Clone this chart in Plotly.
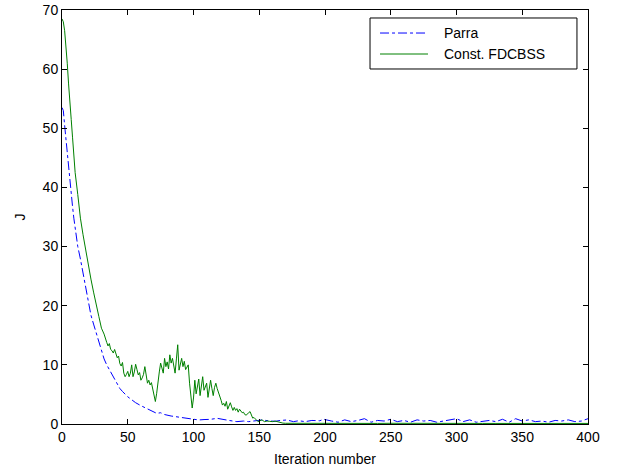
import plotly.graph_objects as go

# Const. FDCBSS (green, solid)
fdcbss_it = [0, 1, 2, 3, 4, 5, 6, 7, 8, 9, 10, 12, 14, 16, 18, 20, 22, 24, 26, 28,
             30, 32, 34, 35, 36, 37, 38, 39, 40, 41, 42, 43, 44, 45, 46, 47, 48, 49,
             50, 51, 52, 53, 54, 55, 56, 57, 58, 59, 60, 61, 62, 63, 64, 65, 66, 67,
             68, 69, 70, 71, 72, 73, 74, 75, 76, 77, 78, 79, 80, 81, 82, 83, 84, 85,
             86, 87, 88, 89, 90, 91, 92, 93, 94, 95, 96, 97, 98, 99, 100, 101, 102,
             103, 104, 105, 106, 107, 108, 109, 110, 111, 112, 113, 114, 115, 116,
             117, 118, 119, 120, 121, 122, 123, 124, 125, 126, 127, 128, 129, 130,
             131, 132, 133, 134, 135, 136, 137, 138, 139, 140, 141, 142, 143, 144,
             145, 146, 147, 148, 149, 150, 152, 154, 156, 158, 160, 162, 165, 168,
             170, 180, 190, 200, 210, 220, 230, 240, 250, 260, 270, 280, 290, 300,
             310, 320, 330, 340, 350, 360, 370, 380, 390, 400]
fdcbss_J = [68.5, 68.0, 66.5, 64.0, 61.0, 57.5, 55.0, 51.5, 48.5, 45.5, 42.5, 38.8,
            34.8, 32.0, 29.3, 26.6, 24.5, 22.3, 20.0, 18.2, 16.2, 15.2, 13.8, 13.2,
            13.6, 12.6, 12.4, 12.0, 12.6, 11.8, 11.2, 11.5, 10.2, 9.8, 10.4, 8.6, 8.0,
            8.4, 8.9, 8.0, 8.6, 10.0, 8.0, 8.8, 10.1, 9.2, 8.3, 8.7, 7.4, 7.8, 8.4,
            9.7, 8.5, 6.9, 7.4, 6.6, 7.0, 5.8, 4.6, 3.8, 5.2, 7.4, 8.8, 10.3, 9.4,
            8.6, 11.1, 9.7, 10.5, 9.3, 11.7, 10.3, 11.1, 9.8, 8.6, 11.0, 13.4, 9.1,
            10.2, 11.1, 9.7, 10.6, 9.2, 9.6, 10.0, 6.9, 5.0, 2.7, 4.4, 7.4, 5.1, 6.6,
            7.6, 4.8, 6.5, 8.0, 5.7, 6.3, 6.9, 4.5, 6.2, 7.4, 6.0, 4.8, 6.2, 6.9, 6.0,
            5.4, 4.8, 4.0, 3.2, 3.5, 3.0, 3.8, 2.5, 3.2, 3.6, 2.9, 2.3, 2.8, 2.3, 2.6,
            2.0, 2.5, 2.2, 1.9, 2.0, 1.6, 1.5, 1.8, 1.9, 2.1, 1.5, 1.0, 1.1, 0.8, 0.7,
            0.4, 0.5, 0.7, 0.4, 0.5, 0.45, 0.4, 0.5, 0.3, 0.15, 0.12, 0.1, 0.12, 0.1,
            0.1, 0.12, 0.1, 0.1, 0.12, 0.1, 0.1, 0.1, 0.12, 0.1, 0.1, 0.1, 0.1, 0.1,
            0.1, 0.1, 0.1, 0.1, 0.1, 0.1, 0.1]

# Parra (blue, dash-dot)
parra_it = [0, 1, 2, 3, 4, 5, 6, 7, 8, 9, 10, 12, 14, 16, 18, 20, 22, 24, 26, 28, 30,
            32, 34, 36, 38, 40, 42, 44, 46, 48, 50, 53, 56, 60, 64, 68, 72, 75, 78,
            83, 88, 92, 95, 100, 104, 108, 113, 118, 122, 127, 133, 138, 142, 147,
            152, 157, 162, 166, 171, 176, 180, 185, 190, 196, 199, 205, 210, 215,
            220, 225, 230, 235, 240, 245, 250, 255, 260, 265, 270, 275, 280, 285,
            290, 295, 300, 305, 310, 315, 320, 325, 330, 335, 340, 345, 350, 355,
            360, 365, 370, 375, 380, 385, 390, 395, 400]
parra_J = [53.5, 53.0, 50.5, 48.0, 45.5, 43.3, 41.0, 39.2, 36.8, 34.8, 33.2, 30.0,
           27.9, 25.4, 23.0, 21.0, 18.4, 16.9, 15.4, 14.0, 12.7, 11.0, 10.0, 9.2, 8.5,
           7.6, 6.8, 6.0, 5.5, 5.0, 4.6, 4.1, 3.6, 3.1, 2.7, 2.2, 1.8, 1.9, 1.6, 1.35,
           1.2, 1.07, 0.96, 0.8, 0.68, 0.75, 0.79, 0.96, 0.75, 0.6, 0.4, 0.5, 0.4,
           0.55, 0.68, 0.55, 0.45, 0.6, 0.68, 0.4, 0.55, 0.4, 0.6, 0.55, 0.8, 0.5,
           0.3, 0.7, 0.4, 0.6, 0.9, 0.3, 0.6, 0.5, 0.8, 0.4, 0.6, 0.3, 0.7, 0.5, 0.6,
           0.3, 0.5, 0.6, 0.9, 0.4, 0.7, 0.3, 0.5, 0.6, 0.4, 0.8, 0.3, 0.9, 0.5, 0.7,
           0.4, 0.5, 0.3, 0.6, 0.5, 0.7, 0.4, 0.5, 0.9]

x_ticks = [0, 50, 100, 150, 200, 250, 300, 350, 400]
y_ticks = [0, 10, 20, 30, 40, 50, 60, 70]

FONT = 'Liberation Sans, Arial'
series = [('Parra', parra_it, parra_J, '#0000ff', 'dashdot'),
          ('Const. FDCBSS', fdcbss_it, fdcbss_J, '#008000', 'solid')]

fig = go.Figure()
for name, xs, ys, color, dash in series:
    fig.add_trace(go.Scatter(x=xs, y=ys, mode='lines', name=name, showlegend=False,
                             line=dict(color=color, width=1, dash=dash)))

axis_style = dict(showline=True, linecolor='black', linewidth=1, mirror='ticks',
                  ticks='inside', ticklen=5, tickcolor='black', showgrid=False,
                  zeroline=False, automargin=False,
                  tickfont=dict(family=FONT, size=14, color='black'))

fig.update_xaxes(range=[0, 400], tickvals=x_ticks,
                 title=dict(text='Iteration number', standoff=10,
                            font=dict(family=FONT, size=14, color='black')),
                 **axis_style)
fig.update_yaxes(range=[0, 70], tickvals=y_ticks,
                 title=dict(text='J', standoff=13,
                            font=dict(family=FONT, size=14, color='black')),
                 **axis_style)

# MATLAB-like legend box drawn by hand (paper coords of the plot area)
fig.add_shape(type='rect', xref='paper', yref='paper',
              x0=0.5856, x1=0.979, y0=0.8575, y1=0.9807,
              line=dict(color='black', width=1), fillcolor='white', layer='above')
leg_y = [0.9444, 0.8937]
for (name, _, _, color, dash), ly in zip(series, leg_y):
    fig.add_shape(type='line', xref='paper', yref='paper',
                  x0=0.6046, x1=0.6958, y0=ly, y1=ly,
                  line=dict(color=color, width=1, dash=dash))
    fig.add_annotation(xref='paper', yref='paper', x=0.7224, y=ly, text=name,
                       showarrow=False, xanchor='left', yanchor='middle',
                       font=dict(family=FONT, size=14, color='black'))

fig.update_layout(
    width=620, height=469,
    margin=dict(l=62, r=32, t=10, b=45),
    paper_bgcolor='white', plot_bgcolor='white',
    showlegend=False,
)

# drop the default body margin so the figure sits at the page corner
fig.write_html("out.html", config={'displayModeBar': False},
               post_script="document.body.style.margin='0';")
